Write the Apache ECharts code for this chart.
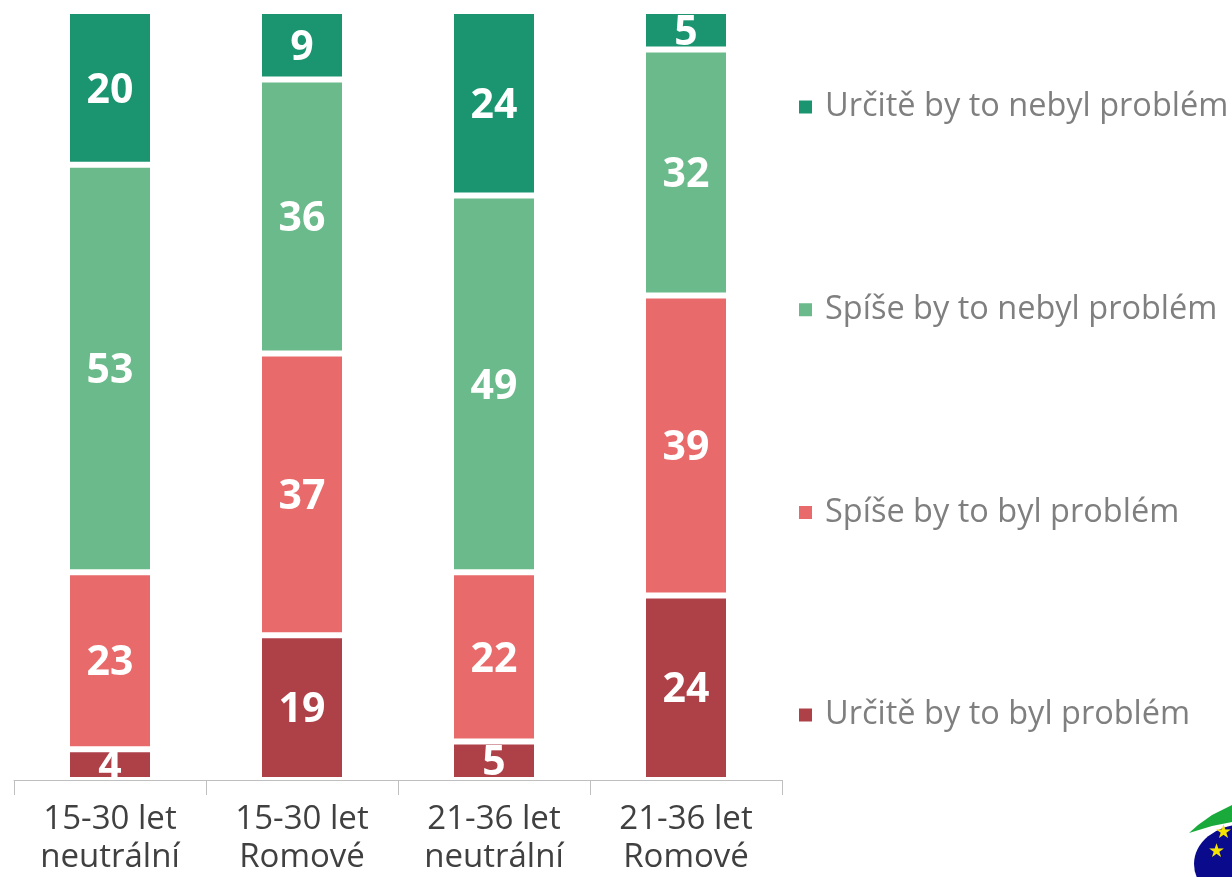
<!DOCTYPE html>
<html>
<head>
<meta charset="utf-8">
<script src="https://cdn.jsdelivr.net/npm/echarts@6/dist/echarts.min.js"></script>
<style>
  html, body { margin: 0; padding: 0; background: #fff; }
  #chart { width: 1232px; height: 877px; }
</style>
</head>
<body>
<div id="chart"></div>
<script>
const categories = ['15-30 let\nneutrální', '15-30 let\nRomové', '21-36 let\nneutrální', '21-36 let\nRomové']
const seriesNames = ['Určitě by to byl problém', 'Spíše by to byl problém', 'Spíše by to nebyl problém', 'Určitě by to nebyl problém']
const definitelyProblem = [4, 19, 5, 24]
const ratherProblem = [23, 37, 22, 39]
const ratherNoProblem = [53, 36, 49, 32]
const definitelyNoProblem = [20, 9, 24, 5]
const colors = ['#ae4148', '#e96a6a', '#6bba8b', '#1b9470']

const values = [definitelyProblem, ratherProblem, ratherNoProblem, definitelyNoProblem]
const font = '"Open Sans", sans-serif'

// 100% stacked: each column is scaled to its own total, labels keep the raw numbers
const totals = categories.map((_, c) => values.reduce((sum, arr) => sum + arr[c], 0))

const chart = echarts.init(document.getElementById('chart'))

const series = seriesNames.map((name, i) => ({
  name,
  type: 'bar',
  stack: 'total',
  barWidth: 86,
  data: values[i].map((v, c) => ({ value: (v / totals[c]) * 100, raw: v })),
  itemStyle: {
    color: colors[i],
    borderColor: '#ffffff',
    borderWidth: 3,
  },
  label: {
    show: true,
    position: 'inside',
    offset: [0, 3],
    color: '#ffffff',
    fontFamily: font,
    fontWeight: 'bold',
    fontSize: 41,
    formatter: (p) => p.data.raw,
  },
  emphasis: { disabled: true },
}))

const option = {
  animation: false,
  grid: { left: 14, right: 450, top: 11, bottom: 94 },
  xAxis: {
    type: 'category',
    data: categories,
    axisLine: { lineStyle: { color: '#bfbfbf', width: 1 } },
    axisTick: { show: true, length: 15, lineStyle: { color: '#bfbfbf', width: 1 } },
    axisLabel: {
      color: '#404040',
      fontFamily: font,
      fontSize: 33,
      lineHeight: 38,
      margin: 21,
    },
  },
  yAxis: {
    type: 'value',
    min: 0,
    max: 100,
    show: false,
  },
  legend: {
    orient: 'vertical',
    left: 797,
    top: 87,
    padding: 0,
    data: seriesNames.slice().reverse(),
    icon: 'rect',
    itemWidth: 15,
    itemHeight: 15,
    itemGap: 162.7,
    selectedMode: false,
    textStyle: {
      color: '#7f7f7f',
      fontFamily: font,
      fontSize: 32.5,
      lineHeight: 40,
      padding: [0, 0, 0, 7],
    },
  },
  graphic: [
    {
      type: 'circle',
      shape: { cx: 1242, cy: 864, r: 48 },
      scaleY: 0.82,
      originX: 1242,
      originY: 864,
      style: { fill: '#0a0a8c' },
    },
    {
      type: 'polygon',
      shape: { points: [[1189, 833], [1198, 825], [1212, 815], [1232, 805], [1232, 822], [1212, 826]] },
      style: { fill: '#1aaa3c' },
    },
    {
      type: 'text',
      style: { text: '★', x: 1215, y: 823, fill: '#f5e400', font: '19px sans-serif' },
    },
    {
      type: 'text',
      style: { text: '★', x: 1208, y: 842, fill: '#f5e400', font: '19px sans-serif' },
    },
  ],
  series,
}

chart.setOption(option)
</script>
</body>
</html>
